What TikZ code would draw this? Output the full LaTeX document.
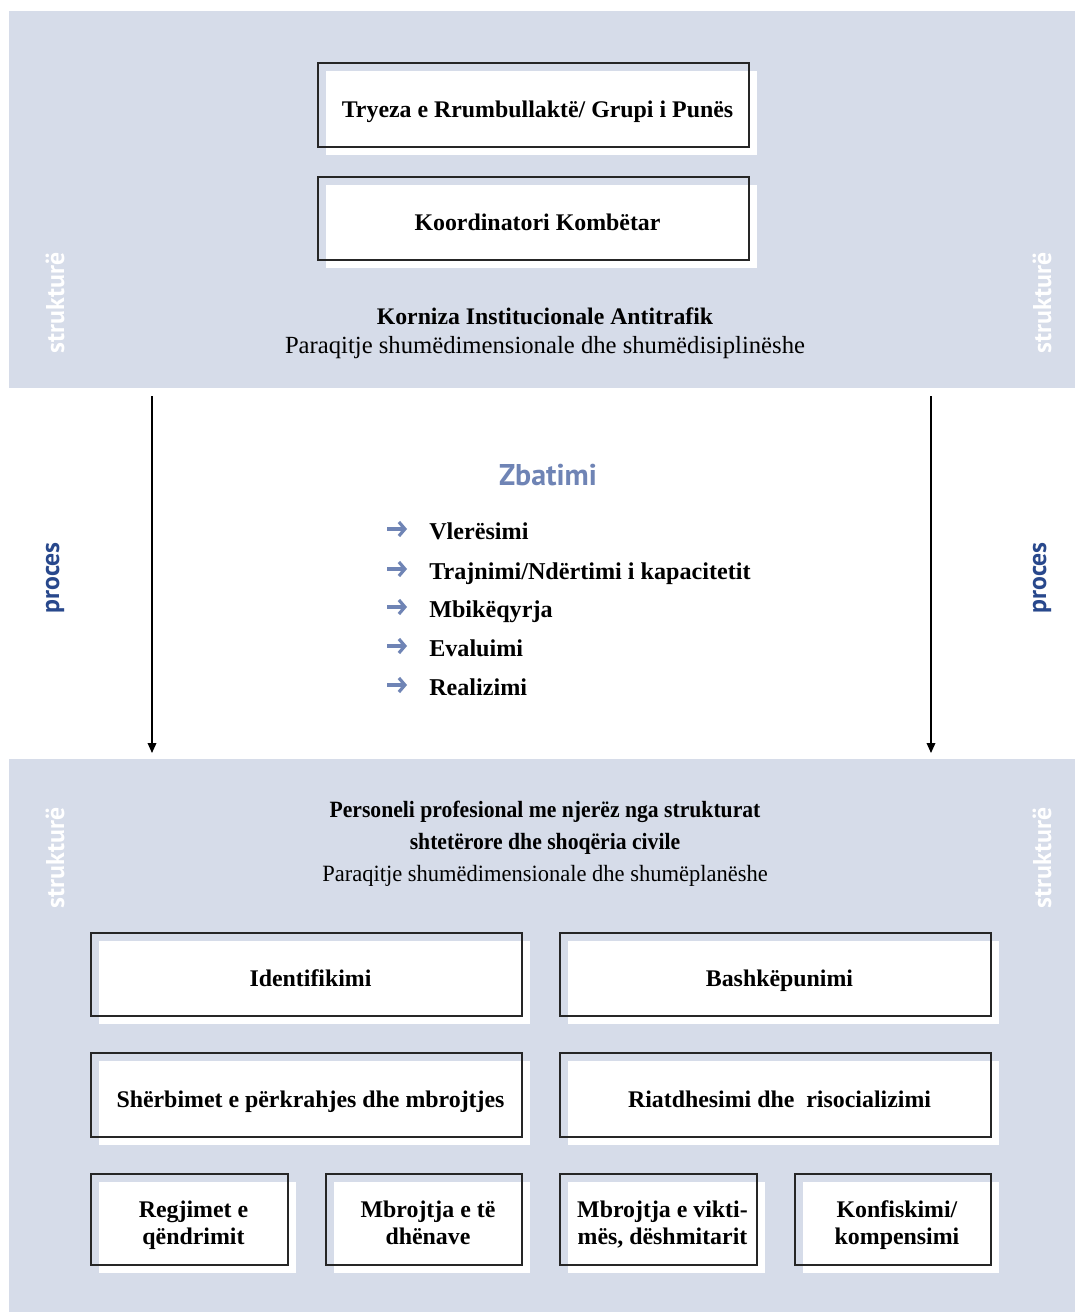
\documentclass[tikz,border=0pt]{standalone}
\usepackage{fontspec}
\usepackage{graphicx}
\setmainfont{Liberation Serif}
\newfontfamily\sidefont{PT Sans}
\usetikzlibrary{arrows.meta}
\definecolor{panel}{RGB}{214,220,233}
\definecolor{zbcol}{RGB}{111,132,181}
\definecolor{proccol}{RGB}{40,72,140}
\tikzset{
  boxline/.style={draw=black!85, line width=1pt},
  boxtext/.style={font=\fontsize{17.9}{20.3}\selectfont\bfseries, align=center, inner sep=0pt,
    execute at begin node=\strut, execute at end node=\strut},
  sidelbl/.style={font=\sidefont\fontsize{19.3}{21}\selectfont\bfseries, rotate=90, inner sep=0pt},
  hdr/.style={font=\fontsize{18.5}{20}\selectfont, inner sep=0pt},
  listitem/.style={font=\fontsize{18.1}{20}\selectfont\bfseries, anchor=base west, inner sep=0pt},
  listarrow/.style={draw=zbcol, line width=2.4pt, -{Straight Barb[length=4.5pt, width=10.5pt]}},
  vline/.style={draw=black, line width=1pt, -{Triangle[length=7.5pt, width=6.5pt]}}
}
\newcommand\ebox[6]{%
  \fill[white] ({#2+8},{#3+8}) rectangle ({#4+8},{#5+8});
  \draw[boxline] (#2,#3) rectangle (#4,#5);
  \node[boxtext] (#1) at ({(#2+#4)/2+4},{(#3+#5)/2+7}) {#6};
}
\begin{document}
\begin{tikzpicture}[x=0.75pt,y=-0.75pt]
\useasboundingbox (0,0) rectangle (1075,1312);
\fill[white] (0,0) rectangle (1075,1312);
\fill[panel] (9,11) rectangle (1075,388);
\fill[panel] (9,759) rectangle (1075,1312);

% top boxes
\ebox{tryeza}{318}{63}{749}{147}{Tryeza e Rrumbullaktë/ Grupi i Punës}
\ebox{koord}{318}{177}{749}{260}{Koordinatori Kombëtar}

\node[hdr, font=\fontsize{17.8}{20}\selectfont\bfseries] (korn) at (545,316) {Korniza Institucionale Antitrafik};
\node[hdr] (korn2) at (545,348) {Paraqitje shumëdimensionale dhe shumëdisiplinëshe};

% side labels
\node[sidelbl, text=white] (s1l) at (55,303) {strukturë};
\node[sidelbl, text=white] (s1r) at (1042,303) {strukturë};
\node[sidelbl, text=proccol] (pl) at (55,578) {proces};
\node[sidelbl, text=proccol] (pr) at (1042,578) {proces};
\node[sidelbl, text=white] (s2l) at (55,858) {strukturë};
\node[sidelbl, text=white] (s2r) at (1042,858) {strukturë};

% process arrows
\coordinate (la) at (152,396);
\coordinate (lb) at (152,753);
\coordinate (ra) at (931,396);
\coordinate (rb) at (931,753);
\draw[vline] (la) -- (lb);
\draw[vline] (ra) -- (rb);

% Zbatimi
\node[font=\sidefont\fontsize{22.5}{24}\selectfont\bfseries, text=zbcol, inner sep=0pt] (zb) at (548,475) {Zbatimi};
\foreach \y/\t/\n in {531/Vlerësimi/i1, 571/Trajnimi\slash Ndërtimi i kapacitetit/i2, 609/Mbikëqyrja/i3, 648/Evaluimi/i4, 687/Realizimi/i5}{
  \coordinate (\n a) at (387,\y-2);
  \coordinate (\n b) at (407,\y-2);
  \draw[listarrow] (\n a) -- (\n b);
  \node[listitem] (\n) at (429,\y+8) {\t};
}

% bottom header
\node[hdr, font=\fontsize{17.5}{20}\selectfont] (pers1) at (545,812) {\scalebox{0.928}[1]{\bfseries Personeli profesional me njerëz nga strukturat}};
\node[hdr, font=\fontsize{17.5}{20}\selectfont] (pers2) at (545,844) {\scalebox{0.928}[1]{\bfseries shtetërore dhe shoqëria civile}};
\node[hdr, font=\fontsize{17.5}{20}\selectfont] (pers3) at (545,876) {\scalebox{0.964}[1]{Paraqitje shumëdimensionale dhe shumëplanëshe}};

% bottom boxes
\ebox{ident}{91}{933}{522}{1016}{Identifikimi}
\ebox{bashk}{560}{933}{991}{1016}{Bashkëpunimi}
\ebox{sherb}{91}{1053}{522}{1137}{Shërbimet e përkrahjes dhe mbrojtjes}
\ebox{riatd}{560}{1053}{991}{1137}{Riatdhesimi dhe\ \ risocializimi}
\ebox{regj}{91}{1174}{288}{1265}{Regjimet e\\qëndrimit}
\ebox{mbrd}{326}{1174}{522}{1265}{Mbrojtja e të\\dhënave}
\ebox{mbrv}{560}{1174}{757}{1265}{Mbrojtja e vikti-\\mës, dëshmitarit}
\ebox{konf}{795}{1174}{991}{1265}{Konfiskimi/\\kompensimi}
\end{tikzpicture}
\end{document}
